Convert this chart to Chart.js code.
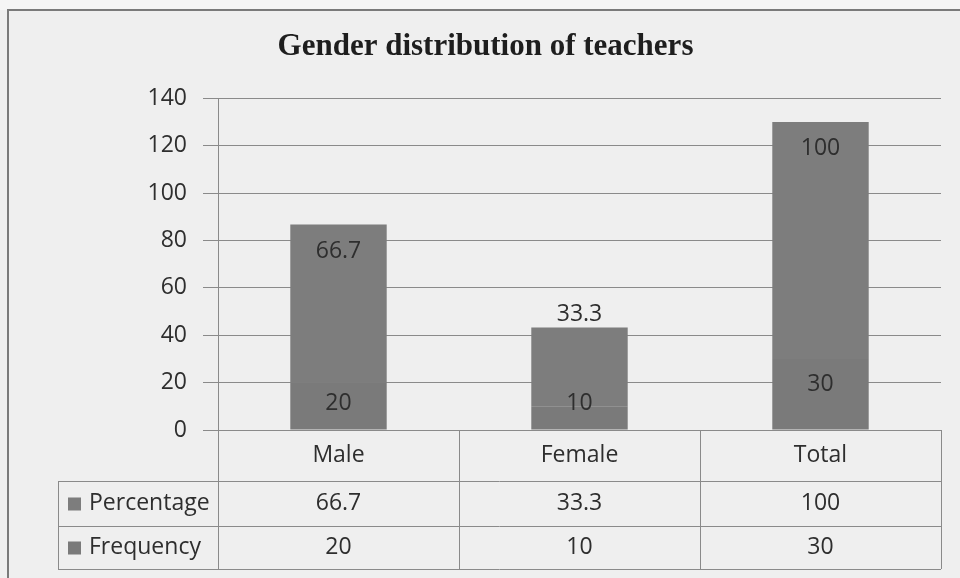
<!DOCTYPE html>
<html>
<head>
<meta charset="utf-8">
<script src="https://cdn.jsdelivr.net/npm/chart.js@4/dist/chart.umd.min.js"></script>
<style>
  html, body { margin: 0; padding: 0; background: #efefef; }
  #wrap { width: 960px; height: 578px; position: relative; }
</style>
</head>
<body>
<div id="wrap"><canvas id="c" width="960" height="578"></canvas></div>
<script>
const categories = ['Male', 'Female', 'Total'];
const percentage = [66.7, 33.3, 100];
const frequency = [20, 10, 30];
const seriesNames = ['Percentage', 'Frequency'];
const yMin = 0, yMax = 140, yStep = 20;
const chartTitle = 'Gender distribution of teachers';

const TEXT = '#2e2e2e';
const LINE = '#8a8a8a';
const FONT = '"Open Sans", "Liberation Sans", sans-serif';
const FSIZE = 23;
const pctColor = '#7d7d7d';
const freqColor = '#7a7a7a';
const pctLabelOutside = [false, true, false];

const framePlugin = {
  id: 'frame',
  beforeDraw(chart) {
    const ctx = chart.ctx;
    ctx.save();
    ctx.fillStyle = '#f5f5f5';
    ctx.fillRect(0, 0, chart.width, 10);
    ctx.fillStyle = '#efefef';
    ctx.fillRect(0, 10, chart.width, chart.height - 10);
    ctx.strokeStyle = '#7a7a7a';
    ctx.lineWidth = 2;
    ctx.beginPath();
    ctx.moveTo(8, chart.height);
    ctx.lineTo(8, 10);
    ctx.lineTo(chart.width, 10);
    ctx.stroke();
    ctx.restore();
  }
};

const labelPlugin = {
  id: 'barLabels',
  afterDatasetsDraw(chart) {
    const ctx = chart.ctx;
    ctx.save();
    ctx.font = FSIZE + 'px ' + FONT;
    ctx.fillStyle = TEXT;
    ctx.textAlign = 'center';
    ctx.textBaseline = 'middle';
    const bottom = chart.chartArea.bottom;
    // dataset 0 = Frequency (bottom), dataset 1 = Percentage (top)
    chart.getDatasetMeta(0).data.forEach((bar, i) => {
      const y = Math.min(bar.y + 26, bottom - 27);
      ctx.fillText(String(frequency[i]), bar.x, y);
    });
    chart.getDatasetMeta(1).data.forEach((bar, i) => {
      const y = pctLabelOutside[i] ? bar.y - 13 : bar.y + 27;
      ctx.fillText(String(percentage[i]), bar.x, y);
    });
    ctx.restore();
  }
};

const tablePlugin = {
  id: 'dataTable',
  afterDraw(chart) {
    const ctx = chart.ctx;
    const a = chart.chartArea;
    const n = categories.length;
    const colW = (a.right - a.left) / n;
    const top = a.bottom;
    const rowH = [51, 45, 43];
    const y1 = top + rowH[0];
    const y2 = y1 + rowH[1];
    const y3 = y2 + rowH[2];
    const tableLeft = 58;
    ctx.save();
    ctx.strokeStyle = LINE;
    ctx.lineWidth = 1;
    ctx.beginPath();
    for (let i = 0; i <= n; i++) {
      const x = Math.round(a.left + colW * i) + 0.5;
      ctx.moveTo(x, top);
      ctx.lineTo(x, y3);
    }
    [y1, y2, y3].forEach(y => {
      ctx.moveTo(tableLeft, Math.round(y) + 0.5);
      ctx.lineTo(a.right, Math.round(y) + 0.5);
    });
    ctx.moveTo(tableLeft + 0.5, y1);
    ctx.lineTo(tableLeft + 0.5, y3);
    ctx.stroke();

    ctx.font = FSIZE + 'px ' + FONT;
    ctx.fillStyle = TEXT;
    ctx.textBaseline = 'middle';
    ctx.textAlign = 'center';
    categories.forEach((c, i) => {
      const cx = a.left + colW * (i + 0.5);
      ctx.fillText(c, cx, top + rowH[0] / 2);
      ctx.fillText(String(percentage[i]), cx, y1 + rowH[1] / 2);
      ctx.fillText(String(frequency[i]), cx, y2 + rowH[2] / 2);
    });
    const rows = [[seriesNames[0], pctColor, y1 + rowH[1] / 2], [seriesNames[1], freqColor, y2 + rowH[2] / 2]];
    rows.forEach(([name, col, cy]) => {
      ctx.fillStyle = col;
      ctx.fillRect(68, cy - 6, 13, 13);
      ctx.fillStyle = TEXT;
      ctx.textAlign = 'left';
      ctx.fillText(name, 89, cy);
    });
    ctx.restore();
  }
};

new Chart(document.getElementById('c'), {
  type: 'bar',
  data: {
    labels: categories,
    datasets: [
      { label: seriesNames[1], data: frequency, backgroundColor: freqColor, borderWidth: 0 },
      { label: seriesNames[0], data: percentage, backgroundColor: pctColor, borderWidth: 0 }
    ]
  },
  options: {
    responsive: false,
    animation: false,
    devicePixelRatio: 1,
    layout: { padding: { left: 30, right: 19, top: 0, bottom: 148 } },
    datasets: { bar: { categoryPercentage: 1.0, barPercentage: 0.4 } },
    plugins: {
      legend: { display: false },
      tooltip: { enabled: false },
      title: {
        display: true,
        text: chartTitle,
        color: '#1e1e1e',
        font: { family: '"Liberation Serif", "DejaVu Serif", serif', size: 31, weight: 'bold' },
        padding: { top: 28, bottom: 33 }
      }
    },
    scales: {
      x: {
        display: false,
        stacked: true
      },
      y: {
        stacked: true,
        min: yMin,
        max: yMax,
        ticks: { stepSize: yStep, color: TEXT, font: { family: FONT, size: FSIZE }, padding: 16 },
        grid: { color: LINE, lineWidth: 1, tickLength: 15, drawTicks: true },
        border: { color: LINE, width: 1 },
        afterFit(scale) { scale.width = 188; }
      }
    }
  },
  plugins: [framePlugin, labelPlugin, tablePlugin]
});
</script>
</body>
</html>
